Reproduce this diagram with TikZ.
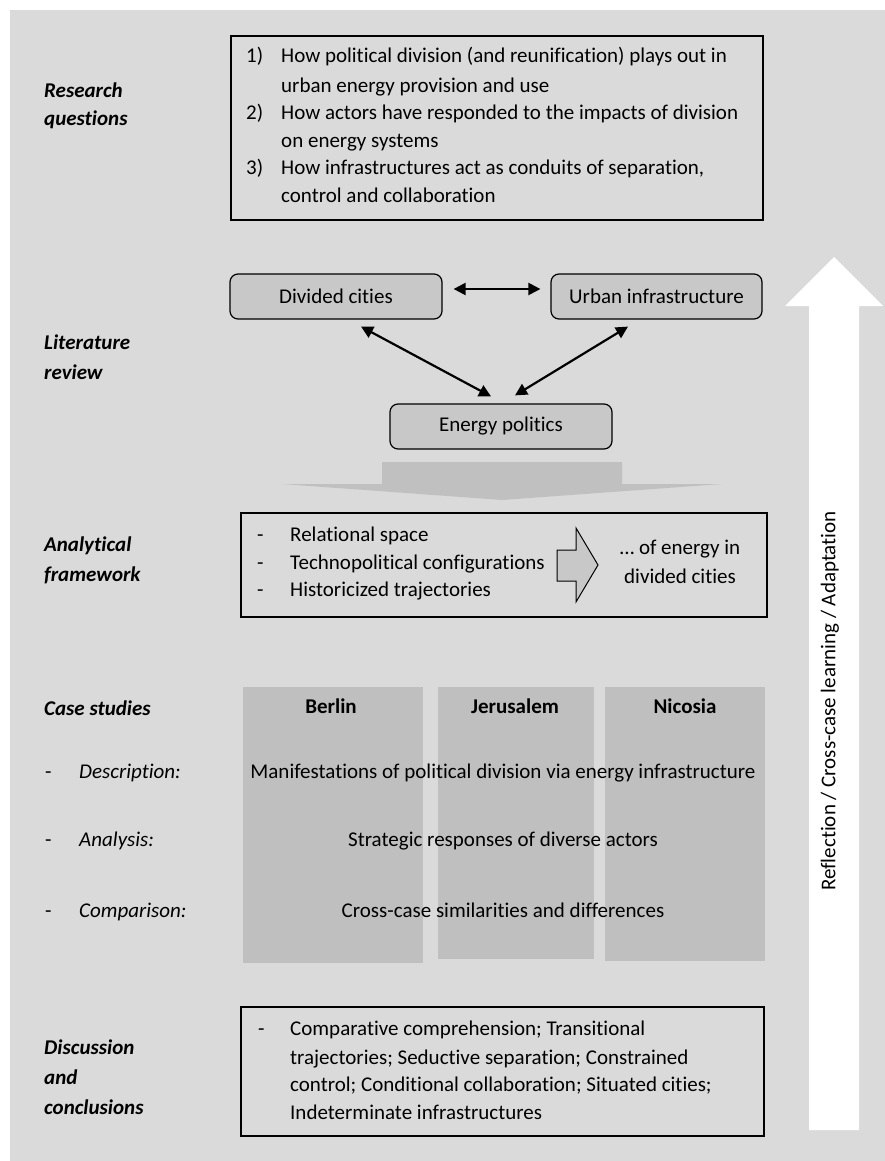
\documentclass[tikz,border=0pt]{standalone}
\usepackage{fontspec}
\setmainfont{Carlito}[Ligatures={NoCommon}]
\usetikzlibrary{arrows.meta}

\definecolor{bggray}{RGB}{218,218,218}
\definecolor{boxgray}{RGB}{200,200,200}
\definecolor{colgray}{RGB}{191,191,191}
\definecolor{bigarrow}{RGB}{192,192,192}

\begin{document}
\begin{tikzpicture}[x=1pt,y=-1pt,
  every node/.style={inner sep=0pt},
  body/.style={font=\fontsize{21}{25}\selectfont},
  line/.style={body, anchor=base west},
  cline/.style={body, anchor=base},
  side/.style={font=\fontsize{21}{25}\selectfont\bfseries\itshape, anchor=base west},
  sub/.style={font=\fontsize{21}{25}\selectfont\itshape, anchor=base west},
  frame/.style={draw=black, line width=1.4pt},
  topic/.style={draw=black, line width=1.2pt, fill=boxgray, rounded corners=8pt, body},
  column/.style={fill=colgray},
  title/.style={font=\fontsize{21}{25}\selectfont\bfseries, anchor=base},
  link/.style={line width=2.2pt, {Triangle[length=12pt,width=12pt]}-{Triangle[length=12pt,width=12pt]}}
]
\useasboundingbox (0,0) rectangle (885,1161);
\fill[white] (0,0) rectangle (885,1161);
\fill[bggray] (10,10) rectangle (885,1161);

% ---- upward feedback arrow on the right
\fill[white] (809,1130) -- (809,306) -- (785,306) -- (834,257) -- (883,306)
  -- (859,306) -- (859,1130) -- cycle;
\node[body, rotate=90] (loop) at (830,701) {Reflection / Cross-case learning / Adaptation};

% ---- row labels
\node[side] (rq1) at (44,98) {Research};
\node[side] (rq2) at (44,126) {questions};
\node[side] (lr1) at (44,349.5) {Literature};
\node[side] (lr2) at (44,379.5) {review};
\node[side] (af1) at (44,551.5) {Analytical};
\node[side] (af2) at (44,581.5) {framework};
\node[side] (cs) at (44,715) {Case studies};
\node[line] (d1) at (45,778) {-};
\node[sub] (d2) at (79,778) {Description:};
\node[line] (a1) at (45,846) {-};
\node[sub] (a2) at (79,846) {Analysis:};
\node[line] (c1) at (45,917) {-};
\node[sub] (c2) at (79,917) {Comparison:};
\node[side] (dc1) at (44,1054.5) {Discussion};
\node[side] (dc2) at (44,1084.5) {and};
\node[side] (dc3) at (44,1114.5) {conclusions};

% ---- research questions
\node[frame, minimum width=532, minimum height=184] (rq) at (497,128) {};
\node[line] (n1) at (246,63) {1)};
\node[line] (q1a) at (281,63) {How political division (and reunification) plays out in};
\node[line] (q1b) at (281,93) {urban energy provision and use};
\node[line] (n2) at (246,120) {2)};
\node[line] (q2a) at (281,120) {How actors have responded to the impacts of division};
\node[line] (q2b) at (281,148) {on energy systems};
\node[line] (n3) at (246,175) {3)};
\node[line] (q3a) at (281,175) {How infrastructures act as conduits of separation,};
\node[line] (q3b) at (281,203) {control and collaboration};

% ---- literature review triangle
\node[topic, minimum width=212, minimum height=45] (div) at (336,296.5) {Divided cities};
\node[topic, minimum width=211, minimum height=45] (urb) at (656.5,296.5) {Urban infrastructure};
\node[topic, minimum width=222, minimum height=45] (ene) at (501,426.5) {Energy politics};
\draw[link] ([xshift=11,yshift=7.5]div.east) -- ([xshift=-10,yshift=7.5]urb.west);
\draw[link] ([xshift=25,yshift=-7]div.south) -- ([xshift=-10,yshift=7]ene.north);
\draw[link] ([xshift=-28.5,yshift=-7]urb.south) -- ([xshift=14,yshift=8]ene.north);

% ---- broad downward arrow
\fill[bigarrow] (382,462) -- (622,462) -- (622,484) -- (722,484) -- (502,500)
  -- (282,484) -- (382,484) -- cycle;

% ---- analytical framework
\node[frame, minimum width=526, minimum height=104] (af) at (504,565) {};
\node[line] (f1) at (257,541.5) {-};
\node[line] (f1t) at (290,541.5) {Relational space};
\node[line] (f2) at (257,569.5) {-};
\node[line] (f2t) at (290,569.5) {Technopolitical configurations};
\node[line] (f3) at (257,596.5) {-};
\node[line] (f3t) at (290,596.5) {Historicized trajectories};
\draw[fill=boxgray, line width=1pt, line join=miter] (557,550) -- (576,550) -- (576,528)
  -- (598,565) -- (576,602) -- (576,581) -- (557,581) -- cycle;
\node[cline] (o1) at (680,554.5) {… of energy in};
\node[cline] (o2) at (680,583.5) {divided cities};

% ---- case studies
\node[column, minimum width=180, minimum height=276] (ber) at (333,825) {};
\node[column, minimum width=156, minimum height=272] (jer) at (516,823) {};
\node[column, minimum width=160, minimum height=274] (nic) at (685,824) {};
\node[title] (bert) at (331,713) {Berlin};
\node[title] (jert) at (515,713) {Jerusalem};
\node[title] (nict) at (685,713) {Nicosia};
\node[cline] (r1) at (503,778) {Manifestations of political division via energy infrastructure};
\node[cline] (r2) at (503,846) {Strategic responses of diverse actors};
\node[cline] (r3) at (503,917) {Cross-case similarities and differences};

% ---- discussion and conclusions
\node[frame, minimum width=523, minimum height=129] (dc) at (502.5,1071.5) {};
\node[line] (k0) at (258,1035.5) {-};
\node[line] (k1) at (290,1035.5) {Comparative comprehension; Transitional};
\node[line] (k2) at (290,1064.5) {trajectories; Seductive separation; Constrained};
\node[line] (k3) at (290,1091.5) {control; Conditional collaboration; Situated cities;};
\node[line] (k4) at (290,1119.5) {Indeterminate infrastructures};
\end{tikzpicture}
\end{document}
